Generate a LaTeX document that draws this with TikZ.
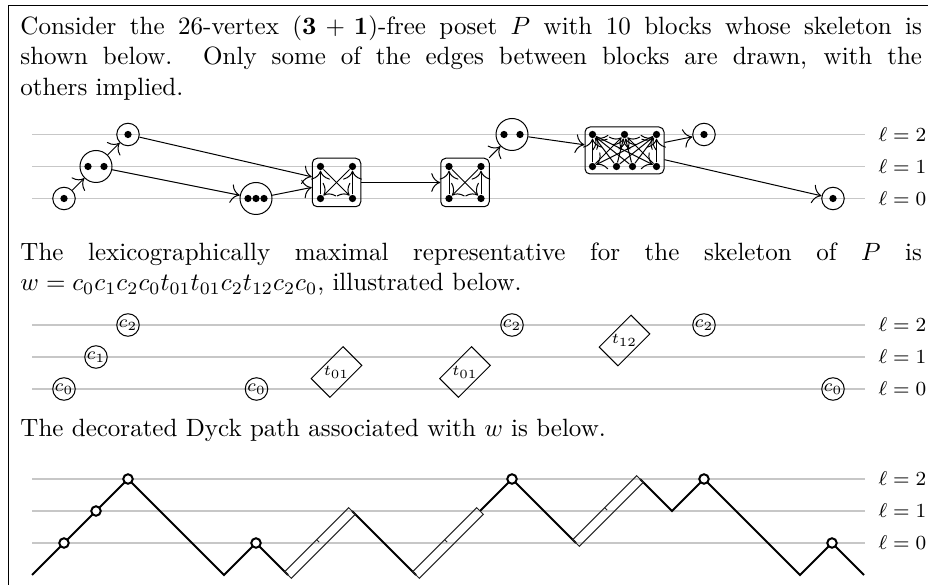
\documentclass[tikz,border=0pt]{standalone}
\usepackage{graphicx}
\usetikzlibrary{arrows.meta}
\begin{document}
\begin{tikzpicture}[x=0.4pt,y=-0.4pt,
  lvl/.style={black!22, line width=0.45pt},
  lvllab/.style={anchor=west, inner sep=0pt, font=\footnotesize},
  txt/.style={anchor=base west, inner sep=0pt},
  blk/.style={draw, circle, line width=0.4pt, inner sep=0pt},
  sing/.style={blk, minimum size=9pt},
  dbl/.style={blk, minimum size=12.8pt},
  tang/.style={draw, rectangle, rounded corners=2pt, line width=0.4pt, inner sep=0pt},
  pt/.style={circle, fill, inner sep=0pt, minimum size=2.9pt},
  edge/.style={-{To[scale=1.45]}, line width=0.4pt},
  cnode/.style={draw, circle, inner sep=0pt, minimum size=9pt, font=\scriptsize, line width=0.4pt},
  tnode/.style={draw, rectangle, rotate=45, inner sep=0pt, minimum width=18pt, minimum height=9pt, font=\fontsize{6}{7}\selectfont, line width=0.4pt},
  dyck/.style={line width=0.8pt},
  dbox/.style={line width=0.4pt, black!85},
  vtx/.style={draw, circle, fill=white, line width=0.8pt, inner sep=0pt, minimum size=3.8pt},
]
\useasboundingbox (0,0) rectangle (928,585);
% frame
\draw[line width=0.5pt] (8.3,585) -- (8.3,5.7) -- (928,5.7);

% text
\node[txt] (t1) at (20,34.5) {\makebox[360.6pt][s]{Consider the 26-vertex $(\mathbf{3}+\mathbf{1})$-free poset $P$ with 10 blocks whose skeleton is}};
\node[txt] (t2) at (20,65) {\makebox[360.6pt][s]{shown below. Only some of the edges between blocks are drawn, with the}};
\node[txt] (t3) at (20,95.5) {others implied.};
\node[txt] (t4) at (20,260.5) {\makebox[360.6pt][s]{The lexicographically maximal representative for the skeleton of $P$ is}};
\node[txt] (t5) at (20,290.5) {$w=c_0c_1c_2c_0t_{01}t_{01}c_2t_{12}c_2c_0$, illustrated below.};
\node[txt] (t6) at (20,437) {The decorated Dyck path associated with $w$ is below.};

% ---------- diagram 1 ----------
\foreach \y/\l in {134.5/2,166.5/1,198.5/0}{
  \draw[lvl] (32,\y) -- (865,\y);
  \node[lvllab] (la\l) at (878,\y) {$\ell = \l$};
}
\node[sing] (A) at (64,198.5) {};
\node[pt] (A1) at (64,198.5) {};
\node[dbl] (B) at (96,166.5) {};
\node[pt] (B1) at (88,166.5) {};
\node[pt] (B2) at (104,166.5) {};
\node[sing] (C) at (128,134.5) {};
\node[pt] (C1) at (128,134.5) {};
\node[dbl] (D) at (256,198.5) {};
\node[pt] (D1) at (248,198.5) {};
\node[pt] (D2) at (256,198.5) {};
\node[pt] (D3) at (264,198.5) {};
\node[tang, minimum width=19.4pt, minimum height=19.4pt] (E) at (336.5,182.5) {};
\node[pt] (E1) at (320.5,166.5) {};
\node[pt] (E2) at (352.5,166.5) {};
\node[pt] (E3) at (320.5,198.5) {};
\node[pt] (E4) at (352.5,198.5) {};
\node[tang, minimum width=19.4pt, minimum height=19.4pt] (F) at (465,182.5) {};
\node[pt] (F1) at (449,166.5) {};
\node[pt] (F2) at (481,166.5) {};
\node[pt] (F3) at (449,198.5) {};
\node[pt] (F4) at (481,198.5) {};
\node[dbl] (G) at (512,134.5) {};
\node[pt] (G1) at (504,134.5) {};
\node[pt] (G2) at (520,134.5) {};
\node[tang, minimum width=31.6pt, minimum height=18.8pt] (H) at (624.5,150.5) {};
\node[pt] (HT1) at (592.5,134.5) {};
\node[pt] (HT2) at (624.5,134.5) {};
\node[pt] (HT3) at (656.5,134.5) {};
\node[pt] (HB1) at (592.5,166.5) {};
\node[pt] (HB2) at (616.5,166.5) {};
\node[pt] (HB3) at (632.5,166.5) {};
\node[pt] (HB4) at (656.5,166.5) {};
\node[sing] (I) at (704,134.5) {};
\node[pt] (I1) at (704,134.5) {};
\node[sing] (J) at (833,198.5) {};
\node[pt] (J1) at (833,198.5) {};

\draw[edge] (A) -- (B);
\draw[edge] (B) -- (C);
\draw[edge] (C) -- (E);
\draw[edge] (B) -- (D);
\draw[edge] (D) -- (E);
\draw[edge] (E) -- (F);
\draw[edge] (F) -- (G);
\draw[edge] (G) -- (H);
\draw[edge] (H) -- (I);
\draw[edge] (H) -- (J);
% inside tangles
\draw[edge] (E3) -- (E1);
\draw[edge] (E4) -- (E2);
\draw[edge] (E1) -- (E4);
\draw[edge] (E2) -- (E3);
\draw[edge] (F3) -- (F1);
\draw[edge] (F4) -- (F2);
\draw[edge] (F1) -- (F4);
\draw[edge] (F2) -- (F3);
\draw[edge] (HB1) -- (HT1);
\draw[edge] (HB1) -- (HT2);
\draw[edge] (HT3) -- (HB1);
\draw[edge] (HB2) -- (HT1);
\draw[edge] (HB2) -- (HT2);
\draw[edge] (HB2) -- (HT3);
\draw[edge] (HB3) -- (HT1);
\draw[edge] (HB3) -- (HT2);
\draw[edge] (HB3) -- (HT3);
\draw[edge] (HT1) -- (HB4);
\draw[edge] (HB4) -- (HT2);
\draw[edge] (HB4) -- (HT3);

% ---------- diagram 2 ----------
\foreach \y/\l in {325/2,357/1,389/0}{
  \draw[lvl] (32,\y) -- (865,\y);
  \node[lvllab] (lb\l) at (878,\y) {$\ell = \l$};
}
\node[cnode] (w1) at (64,389) {$c_0$};
\node[cnode] (w2) at (96,357) {$c_1$};
\node[cnode] (w3) at (128,325) {$c_2$};
\node[cnode] (w4) at (256.5,389) {$c_0$};
\node[tnode] (w5) at (336.5,372) {\rotatebox{-45}{$t_{01}$}};
\node[tnode] (w6) at (465,372) {\rotatebox{-45}{$t_{01}$}};
\node[cnode] (w7) at (512,325) {$c_2$};
\node[tnode] (w8) at (624.5,340.5) {\rotatebox{-45}{$t_{12}$}};
\node[cnode] (w9) at (704,325) {$c_2$};
\node[cnode] (w10) at (833,389) {$c_0$};

% ---------- diagram 3 ----------
\foreach \y/\l in {479/2,511/1,543/0}{
  \draw[lvl] (32,\y) -- (865,\y);
  \node[lvllab] (lc\l) at (878,\y) {$\ell = \l$};
}
\draw[dyck] (32,575) -- (64,543) -- (96,511) -- (128,479) -- (224,575) -- (256,543) -- (288,575);
\draw[dyck] (352,511) -- (416,575);
\draw[dyck] (480,511) -- (512,479) -- (576,543);
\draw[dyck] (640,479) -- (672,511) -- (704,479) -- (800,575) -- (832,543) -- (864,575);
\foreach \a/\b in {288/575,416/575,576/543}{
  \begin{scope}[shift={(\a,\b)}]
    \draw[dbox] (-3.3,-3.3) -- (3.3,3.3) -- (67.3,-60.7) -- (60.7,-67.3) -- cycle;
    \draw[dbox] (28.7,-35.3) -- (31.2,-32.8);
  \end{scope}
}
\node[vtx] (v1) at (64,543) {};
\node[vtx] (v2) at (96,511) {};
\node[vtx] (v3) at (128,479) {};
\node[vtx] (v4) at (256,543) {};
\node[vtx] (v5) at (512,479) {};
\node[vtx] (v6) at (704,479) {};
\node[vtx] (v7) at (832,543) {};
\end{tikzpicture}
\end{document}
